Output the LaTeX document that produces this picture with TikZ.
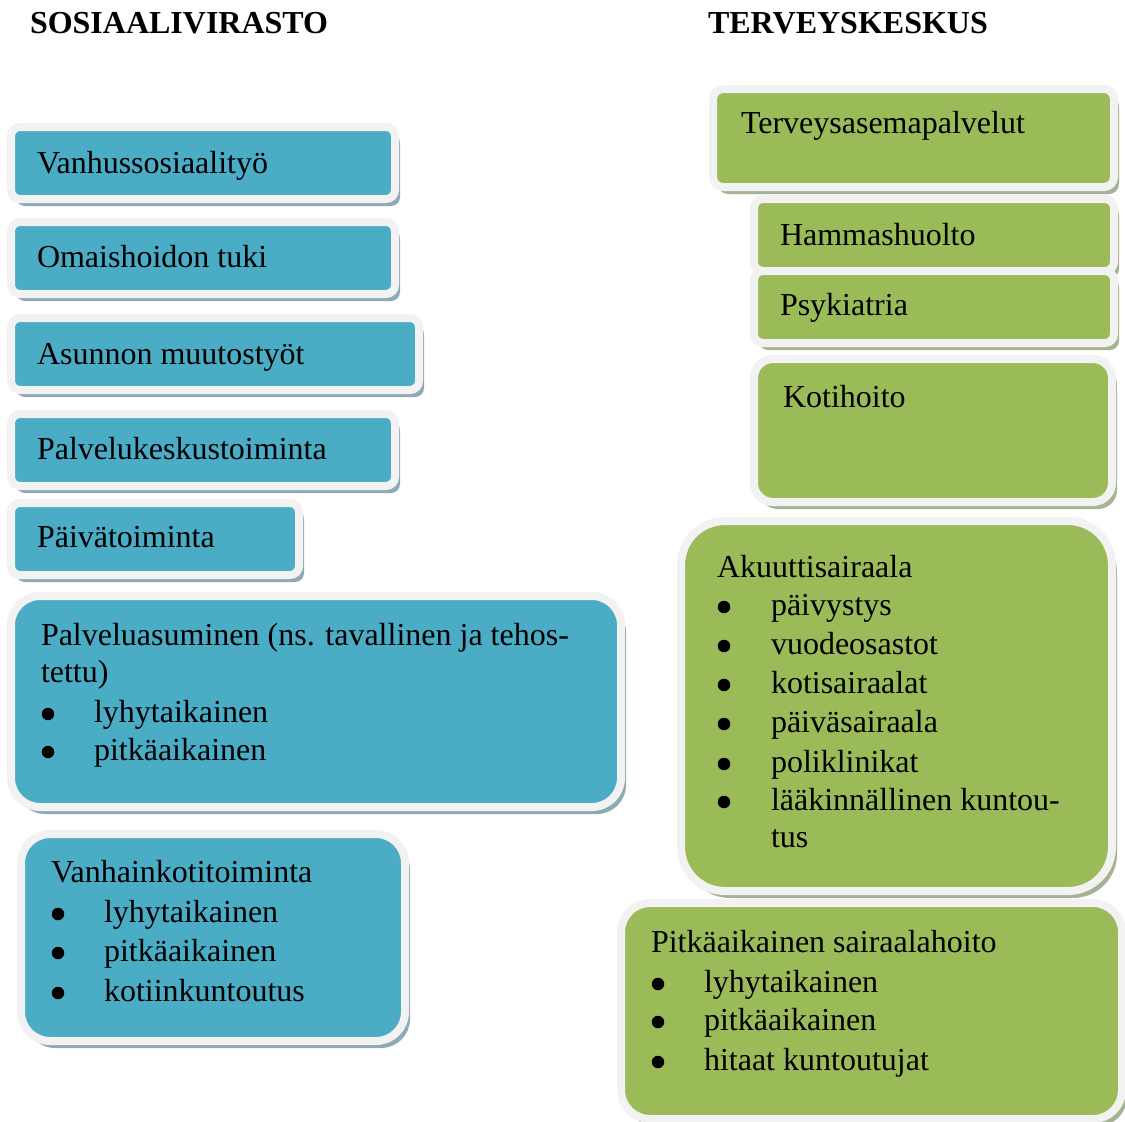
\documentclass[tikz,border=0pt]{standalone}
\usepackage{fontspec}
\setmainfont{Liberation Serif}
\usetikzlibrary{shadows}
\definecolor{cblue}{HTML}{4BACC6}
\definecolor{cgreen}{HTML}{9BBB59}
\definecolor{cborder}{HTML}{F2F2F2}
\definecolor{sblue}{HTML}{8FAAB4}
\definecolor{sgreen}{HTML}{A6B294}
\tikzset{
  cbox/.style={rectangle, inner sep=0pt, outer sep=0pt, line width=8pt, draw=cborder, anchor=north west},
  bluebox/.style={cbox, fill=cblue, drop shadow={shadow xshift=5pt, shadow yshift=-7pt, fill=sblue, opacity=1}},
  greenbox/.style={cbox, fill=cgreen, drop shadow={shadow xshift=5pt, shadow yshift=-7pt, fill=sgreen, opacity=1}},
  txt/.style={anchor=base west, inner sep=0pt, outer sep=0pt, font=\fontsize{32}{39}\selectfont},
  bul/.style={circle, fill=black, inner sep=0pt, outer sep=0pt, minimum size=12.5pt, yshift=8pt},
  head/.style={txt, font=\fontsize{32}{39}\selectfont\bfseries}
}
\newcommand\mybox[7]{%
  \pgfmathsetmacro\bw{#5-#3+8}%
  \pgfmathsetmacro\bh{#6-#4+8}%
  \pgfmathsetmacro\br{#7+4}%
  \node[#2, minimum width=\bw pt, minimum height=\bh pt, rounded corners=\br pt] (#1) at (#3-4,#4-4) {};}
\begin{document}
\begin{tikzpicture}[x=1pt,y=-1pt]
\useasboundingbox (0,0) rectangle (1125,1122);
% left column boxes
\mybox{L1}{bluebox}{15}{131}{391}{195}{5}
\mybox{L2}{bluebox}{15}{226}{391}{290}{5}
\mybox{L3}{bluebox}{15}{322}{415}{386}{5}
\mybox{L4}{bluebox}{15}{418}{391}{482}{5}
\mybox{L5}{bluebox}{15}{507}{295}{571}{5}
\mybox{L6}{bluebox}{15}{600}{617}{803}{25}
\mybox{L7}{bluebox}{25}{838}{401}{1037}{25}
% right column boxes
\mybox{R1}{greenbox}{717}{93}{1110}{183}{6}
\mybox{R2}{greenbox}{758}{203}{1110}{267}{5}
\mybox{R3}{greenbox}{758}{275}{1110}{339}{5}
\mybox{R4}{greenbox}{758}{363}{1108}{498}{15}
\mybox{R5}{greenbox}{685}{525}{1108}{887}{40}
\mybox{R6}{greenbox}{625}{907}{1118}{1115}{25}
% headings
\node[head] (h1) at (30,33) {SOSIAALIVIRASTO};
\node[head] (h2) at (708,33) {TERVEYSKESKUS};
% left texts
\node[txt] (t1) at (37,173) {Vanhussosiaalityö};
\node[txt] (t2) at (37,267) {Omaishoidon tuki};
\node[txt] (t3) at (37,364) {Asunnon muutostyöt};
\node[txt] (t4) at (37,459) {Palvelukeskustoiminta};
\node[txt] (t5) at (37,547) {Päivätoiminta};
\node[txt] (t6a) at (41,645) {Palveluasuminen (ns. tavallinen ja tehos-};
\node[txt] (t6b) at (41,682) {tettu)};
\node[bul] (b6c) at (48,722) {};
\node[txt] (t6c) at (94,722) {lyhytaikainen};
\node[bul] (b6d) at (48,760) {};
\node[txt] (t6d) at (94,760) {pitkäaikainen};
\node[txt] (t7a) at (51,882) {Vanhainkotitoiminta};
\node[bul] (b7b) at (58,922) {};
\node[txt] (t7b) at (104,922) {lyhytaikainen};
\node[bul] (b7c) at (58,961) {};
\node[txt] (t7c) at (104,961) {pitkäaikainen};
\node[bul] (b7d) at (58,1001) {};
\node[txt] (t7d) at (104,1001) {kotiinkuntoutus};
% right texts
\node[txt] (r1) at (741,133) {Terveysasemapalvelut};
\node[txt] (r2) at (780,245) {Hammashuolto};
\node[txt] (r3) at (780,315) {Psykiatria};
\node[txt] (r4) at (783,407) {Kotihoito};
\node[txt] (r5a) at (717,577) {Akuuttisairaala};
\node[bul] (s5b) at (724,615) {};
\node[txt] (r5b) at (771,615) {päivystys};
\node[bul] (s5c) at (724,654) {};
\node[txt] (r5c) at (771,654) {vuodeosastot};
\node[bul] (s5d) at (724,693) {};
\node[txt] (r5d) at (771,693) {kotisairaalat};
\node[bul] (s5e) at (724,732) {};
\node[txt] (r5e) at (771,732) {päiväsairaala};
\node[bul] (s5f) at (724,772) {};
\node[txt] (r5f) at (771,772) {poliklinikat};
\node[bul] (s5g) at (724,810) {};
\node[txt] (r5g) at (771,810) {lääkinnällinen kuntou-};
\node[txt] (r5h) at (771,847) {tus};
\node[txt] (r6a) at (651,952) {Pitkäaikainen sairaalahoito};
\node[bul] (s6b) at (658,992) {};
\node[txt] (r6b) at (704,992) {lyhytaikainen};
\node[bul] (s6c) at (658,1030) {};
\node[txt] (r6c) at (704,1030) {pitkäaikainen};
\node[bul] (s6d) at (658,1070) {};
\node[txt] (r6d) at (704,1070) {hitaat kuntoutujat};
\end{tikzpicture}
\end{document}
